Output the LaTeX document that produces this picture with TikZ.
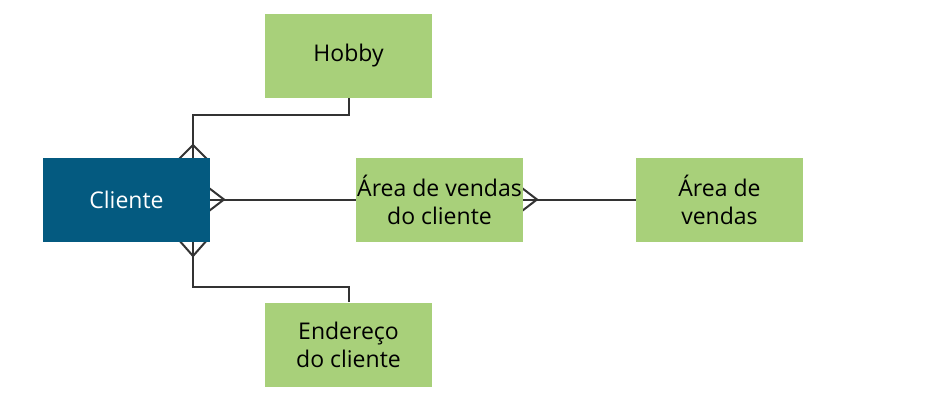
\documentclass[tikz,border=0pt]{standalone}
\usepackage{fontspec}
\setmainfont{Open Sans}
\definecolor{boxgreen}{HTML}{A8D07A}
\definecolor{boxblue}{HTML}{045A80}
\definecolor{linegray}{HTML}{333333}
\begin{document}
\begin{tikzpicture}[x=1pt,y=-1pt,
  ent/.style={fill=boxgreen,draw=none,minimum width=167pt,minimum height=84pt,inner sep=0pt,align=center,font=\fontsize{23}{28}\selectfont},
  entblue/.style={ent,fill=boxblue,text=white},
  conn/.style={draw=linegray,line width=2pt},
  foot/.style={draw=linegray,line width=2pt}]
\useasboundingbox (0,0) rectangle (950,400);
% coordinates of apexes
\coordinate (topapex) at (193,145);
\coordinate (botapex) at (193,256);
\coordinate (rapex) at (224,199.5);
\coordinate (rapex2) at (537,199.5);
\coordinate (hb) at (349,98);
\coordinate (eb) at (349,302);
% connectors
\draw[conn] (hb) -- (349,115) -| (193,160);
\draw[conn] (eb) -- (349,287) -| (193,240);
\draw[conn] (208,199.5) -- (358,199.5);
\draw[conn] (521,199.5) -- (638,199.5);
% crow's feet
\draw[foot] (178,160) -- (topapex) -- (208,160);
\draw[foot] (178,239) -- (botapex) -- (208,239);
\draw[foot] (205,185) -- (rapex) -- (205,214);
\draw[foot] (518,185) -- (rapex2) -- (518,214);
% entities
\node[ent] (hobby) at (348.5,55.5) {Hobby};
\node[entblue] (cliente) at (126.5,199.5) {Cliente};
\node[ent] (avc) at (439.5,199.5) {Área de vendas\\do cliente};
\node[ent] (av) at (719.5,199.5) {Área de\\vendas};
\node[ent] (end) at (348.5,345) {Endereço\\do cliente};
\end{tikzpicture}
\end{document}
